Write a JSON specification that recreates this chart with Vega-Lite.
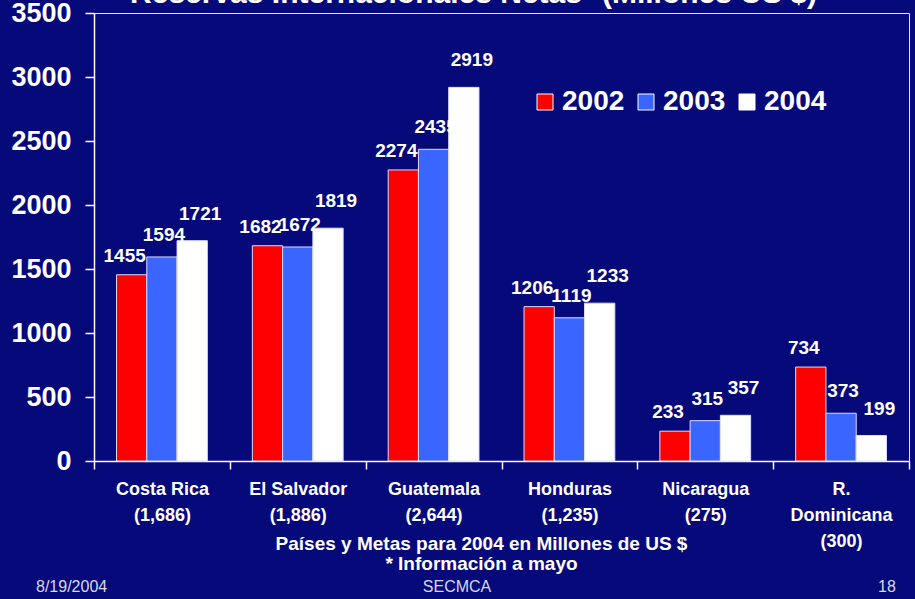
{
  "$schema": "https://vega.github.io/schema/vega-lite/v6.json",
  "width": 815,
  "height": 448,
  "autosize": {"type": "none"},
  "padding": {"left": 94, "top": 13, "right": 6, "bottom": 138},
  "background": "#06097a",
  "title": {
    "text": "8/19/2004\u00a0\u00a0\u00a0\u00a0\u00a0\u00a0\u00a0\u00a0\u00a0\u00a0\u00a0\u00a0\u00a0\u00a0\u00a0\u00a0\u00a0\u00a0\u00a0\u00a0\u00a0\u00a0\u00a0\u00a0\u00a0\u00a0\u00a0\u00a0\u00a0\u00a0\u00a0\u00a0\u00a0\u00a0\u00a0\u00a0\u00a0\u00a0\u00a0\u00a0\u00a0\u00a0\u00a0\u00a0\u00a0\u00a0\u00a0\u00a0\u00a0\u00a0\u00a0\u00a0\u00a0\u00a0\u00a0\u00a0\u00a0\u00a0\u00a0\u00a0\u00a0\u00a0\u00a0\u00a0\u00a0\u00a0\u00a0\u00a0\u00a0\u00a0\u00a0SECMCA\u00a0\u00a0\u00a0\u00a0\u00a0\u00a0\u00a0\u00a0\u00a0\u00a0\u00a0\u00a0\u00a0\u00a0\u00a0\u00a0\u00a0\u00a0\u00a0\u00a0\u00a0\u00a0\u00a0\u00a0\u00a0\u00a0\u00a0\u00a0\u00a0\u00a0\u00a0\u00a0\u00a0\u00a0\u00a0\u00a0\u00a0\u00a0\u00a0\u00a0\u00a0\u00a0\u00a0\u00a0\u00a0\u00a0\u00a0\u00a0\u00a0\u00a0\u00a0\u00a0\u00a0\u00a0\u00a0\u00a0\u00a0\u00a0\u00a0\u00a0\u00a0\u00a0\u00a0\u00a0\u00a0\u00a0\u00a0\u00a0\u00a0\u00a0\u00a0\u00a0\u00a0\u00a0\u00a0\u00a0\u00a0\u00a0\u00a0\u00a0\u00a0\u00a0\u00a0\u00a0\u00a0\u00a0\u00a018",
    "orient": "bottom",
    "anchor": "start",
    "frame": "group",
    "fontSize": 16,
    "fontWeight": "normal",
    "color": "#d8d8ea",
    "dx": -58,
    "offset": 6
  },
  "config": {
    "font": "Liberation Sans",
    "view": {"stroke": "#e8e8ff", "strokeWidth": 1}
  },
  "data": {
    "values": [
      {"pais": "Costa Rica\n(1,686)", "anio": "2002", "valor": 1455},
      {"pais": "Costa Rica\n(1,686)", "anio": "2003", "valor": 1594},
      {"pais": "Costa Rica\n(1,686)", "anio": "2004", "valor": 1721},
      {"pais": "El Salvador\n(1,886)", "anio": "2002", "valor": 1682},
      {"pais": "El Salvador\n(1,886)", "anio": "2003", "valor": 1672},
      {"pais": "El Salvador\n(1,886)", "anio": "2004", "valor": 1819},
      {"pais": "Guatemala\n(2,644)", "anio": "2002", "valor": 2274},
      {"pais": "Guatemala\n(2,644)", "anio": "2003", "valor": 2435},
      {"pais": "Guatemala\n(2,644)", "anio": "2004", "valor": 2919},
      {"pais": "Honduras\n(1,235)", "anio": "2002", "valor": 1206},
      {"pais": "Honduras\n(1,235)", "anio": "2003", "valor": 1119},
      {"pais": "Honduras\n(1,235)", "anio": "2004", "valor": 1233},
      {"pais": "Nicaragua\n(275)", "anio": "2002", "valor": 233},
      {"pais": "Nicaragua\n(275)", "anio": "2003", "valor": 315},
      {"pais": "Nicaragua\n(275)", "anio": "2004", "valor": 357},
      {"pais": "R.\nDominicana\n(300)", "anio": "2002", "valor": 734},
      {"pais": "R.\nDominicana\n(300)", "anio": "2003", "valor": 373},
      {"pais": "R.\nDominicana\n(300)", "anio": "2004", "valor": 199}
    ]
  },
  "encoding": {
    "x": {
      "field": "pais",
      "type": "nominal",
      "sort": null,
      "scale": {"paddingInner": 0, "paddingOuter": 0},
      "axis": {
        "title": ["Países y Metas para 2004 en Millones de US $", "* Información a mayo"],
        "titleFontSize": 19,
        "titleFontWeight": "bold",
        "titleColor": "white",
        "titleLineHeight": 20,
        "titleX": 387,
        "titleY": 73,
        "titleAlign": "center",
        "titleBaseline": "top",
        "labelExpr": "split(datum.label, '\\n')",
        "labelAngle": 0,
        "labelFontSize": 18,
        "labelFontWeight": "bold",
        "labelColor": "white",
        "labelLineHeight": 26,
        "labelPadding": 11,
        "labelBaseline": "top",
        "tickSize": 8,
        "tickBand": "extent",
        "tickColor": "white",
        "tickWidth": 1.5,
        "domainColor": "white",
        "domainWidth": 1.5,
        "grid": false
      }
    },
    "xOffset": {
      "field": "anio",
      "type": "nominal",
      "scale": {"paddingInner": 0, "paddingOuter": 0.744}
    },
    "y": {
      "field": "valor",
      "type": "quantitative",
      "scale": {"domain": [0, 3500], "nice": false},
      "axis": {
        "values": [0, 500, 1000, 1500, 2000, 2500, 3000, 3500],
        "format": "d",
        "title": "Reservas Internacionales Netas* (Millones US $)",
        "titleAngle": 0,
        "titleX": 379,
        "titleY": -11,
        "titleAlign": "center",
        "titleBaseline": "alphabetic",
        "titleFontSize": 30,
        "titleFontWeight": "bold",
        "titleColor": "white",
        "labelFontSize": 27,
        "labelFontWeight": "bold",
        "labelColor": "white",
        "tickSize": 9,
        "labelPadding": 14,
        "tickColor": "white",
        "tickWidth": 1.5,
        "domainColor": "white",
        "domainWidth": 1.5,
        "grid": false
      }
    }
  },
  "layer": [
    {
      "mark": {"type": "bar", "stroke": "#dcdcff", "strokeWidth": 1},
      "encoding": {
        "color": {
          "field": "anio",
          "type": "nominal",
          "scale": {"domain": ["2002", "2003", "2004"], "range": ["#ff0000", "#3a66ff", "#ffffff"]},
          "legend": {
            "orient": "none",
            "legendX": 437,
            "legendY": 75,
            "direction": "horizontal",
            "title": null,
            "padding": 0,
            "symbolType": "square",
            "symbolSize": 256,
            "symbolStrokeColor": "white",
            "symbolStrokeWidth": 1,
            "symbolOpacity": 1,
            "labelFontSize": 28,
            "labelFontWeight": "bold",
            "labelColor": "white",
            "labelOffset": 3,
            "columnPadding": 7
          }
        }
      }
    },
    {
      "transform": [{"filter": "datum.anio == '2002'"}],
      "mark": {"type": "text", "dx": -7, "dy": -19, "fontSize": 19, "fontWeight": "bold", "color": "white", "baseline": "middle"},
      "encoding": {
        "text": {"field": "valor", "type": "quantitative", "format": "d"}
      }
    },
    {
      "transform": [{"filter": "datum.anio == '2003'"}],
      "mark": {"type": "text", "dx": 2, "dy": -22, "fontSize": 19, "fontWeight": "bold", "color": "white", "baseline": "middle"},
      "encoding": {
        "text": {"field": "valor", "type": "quantitative", "format": "d"}
      }
    },
    {
      "transform": [{"filter": "datum.anio == '2004'"}],
      "mark": {"type": "text", "dx": 8, "dy": -27, "fontSize": 19, "fontWeight": "bold", "color": "white", "baseline": "middle"},
      "encoding": {
        "text": {"field": "valor", "type": "quantitative", "format": "d"}
      }
    }
  ]
}
